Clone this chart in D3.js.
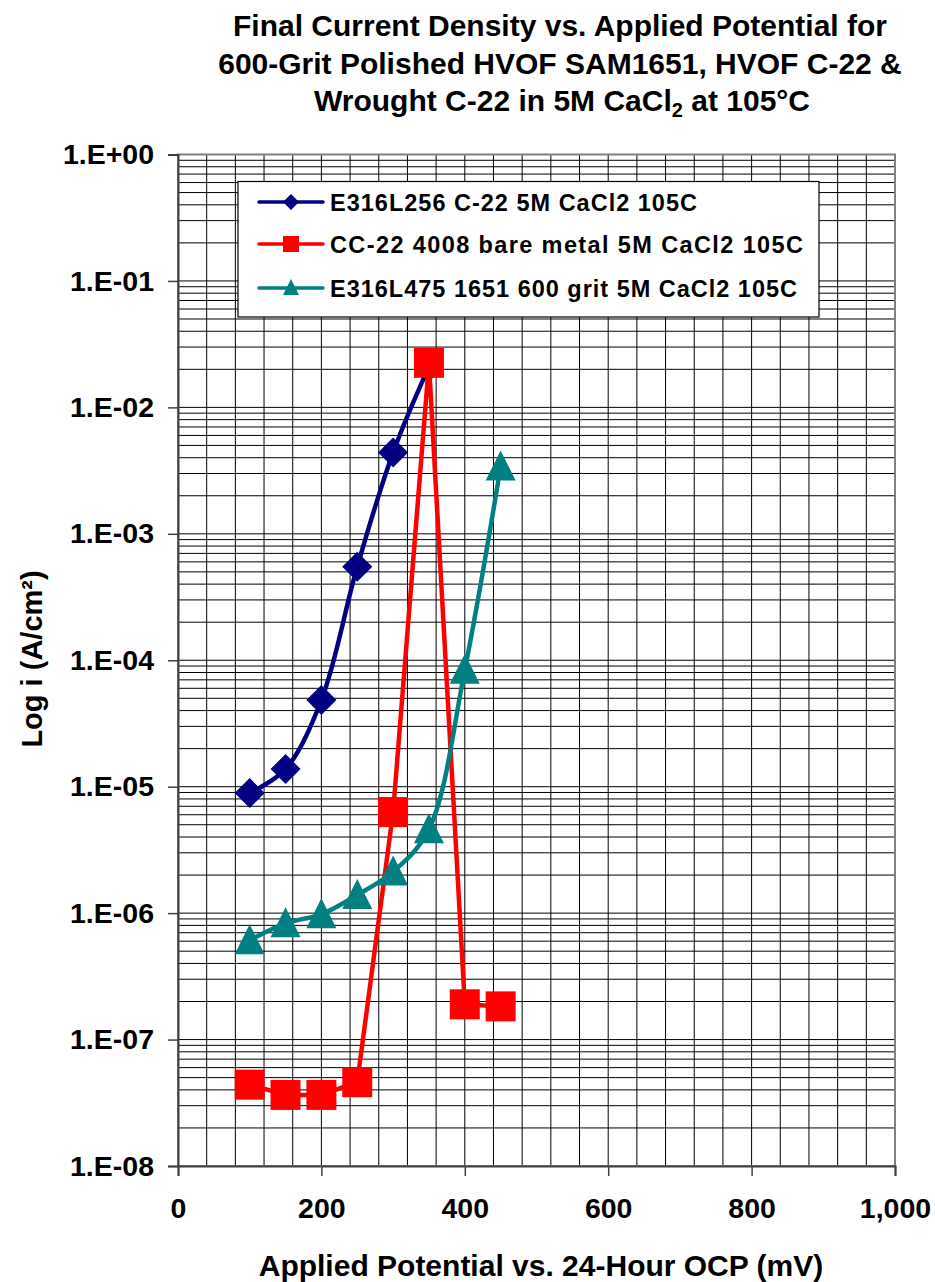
<!DOCTYPE html>
<html>
<head>
<meta charset="utf-8">
<script src="https://cdn.jsdelivr.net/npm/d3@7"></script>
<style>
  html, body { margin: 0; padding: 0; background: #fff; }
  svg { display: block; font-family: "Liberation Sans", Arial, sans-serif; font-weight: bold; }
</style>
</head>
<body>
<svg id="chart" width="935" height="1282"></svg>
<script>
// Applied potential (mV vs. 24-hour OCP) for each polarisation step
const potentials = [100, 150, 200, 250, 300, 350, 400, 450];

// Final current density (A/cm²) per series
const hvofC22 = [8.9e-6, 1.38e-5, 4.85e-5, 5.5e-4, 4.4e-3, 2.1e-2];
const wroughtC22 = [4.4e-8, 3.65e-8, 3.65e-8, 4.6e-8, 6.3e-6, 2.25e-2, 1.9e-7, 1.83e-7];
const sam1651 = [6.1e-7, 8.3e-7, 9.8e-7, 1.39e-6, 2.13e-6, 4.6e-6, 8.4e-5, 3.4e-3];

const seriesNames = [
  "E316L256 C-22 5M CaCl2 105C",
  "CC-22 4008 bare metal 5M CaCl2 105C",
  "E316L475 1651 600 grit 5M CaCl2 105C"
];

const xTicks = [0, 200, 400, 600, 800, 1000];
const yTicks = [1, 1e-1, 1e-2, 1e-3, 1e-4, 1e-5, 1e-6, 1e-7, 1e-8];
const yTickLabels = ["1.E+00", "1.E-01", "1.E-02", "1.E-03", "1.E-04", "1.E-05", "1.E-06", "1.E-07", "1.E-08"];

const titleLines = [
  "Final Current Density vs. Applied Potential for",
  "600-Grit Polished HVOF SAM1651, HVOF C-22 &"
];

const svg = d3.select("#chart");
const plot = { left: 178, right: 895, top: 154.5, bottom: 1166 };

const x = d3.scaleLinear().domain([0, 1000]).range([plot.left, plot.right]);
const y = d3.scaleLog().domain([1e-8, 1]).range([plot.bottom, plot.top]);

// ---- grid ----
const grid = svg.append("g");
const xGrid = d3.range(0, 1001, 40);
grid.selectAll("line.vx").data(xGrid).join("line")
  .attr("x1", d => x(d)).attr("x2", d => x(d))
  .attr("y1", plot.top).attr("y2", plot.bottom)
  .attr("stroke", "#000").attr("stroke-width", 1);

const yGrid = [];
for (let e = -8; e < 0; e++) for (let m = 1; m <= 9; m++) yGrid.push(m * Math.pow(10, e));
grid.selectAll("line.hy").data(yGrid).join("line")
  .attr("x1", plot.left).attr("x2", plot.right)
  .attr("y1", d => y(d)).attr("y2", d => y(d))
  .attr("stroke", "#000").attr("stroke-width", 1);

// plot frame
svg.append("rect")
  .attr("x", plot.left).attr("y", plot.top)
  .attr("width", plot.right - plot.left).attr("height", plot.bottom - plot.top)
  .attr("fill", "none").attr("stroke", "#808080").attr("stroke-width", 2);

// ---- axes ----
const yAxis = d3.axisLeft(y).tickValues(yTicks)
  .tickFormat((d, i) => yTickLabels[i]).tickSize(10).tickPadding(14);
const gy = svg.append("g").attr("transform", `translate(${plot.left},0)`).call(yAxis);
gy.select(".domain").attr("stroke", "#404040").attr("stroke-width", 2);
gy.selectAll(".tick line").attr("stroke", "#404040").attr("stroke-width", 1.5);
gy.selectAll(".tick text").attr("font-size", 28.5).attr("font-weight", "bold")
  .attr("fill", "#000").attr("font-family", "Liberation Sans, Arial, sans-serif");

const xAxis = d3.axisBottom(x).tickValues(xTicks).tickFormat(d3.format(",")).tickSize(10).tickPadding(22);
const gx = svg.append("g").attr("transform", `translate(0,${plot.bottom})`).call(xAxis);
gx.select(".domain").attr("stroke", "#404040").attr("stroke-width", 2);
gx.selectAll(".tick line").attr("stroke", "#404040").attr("stroke-width", 1.5);
gx.selectAll(".tick text").attr("font-size", 28.5).attr("font-weight", "bold")
  .attr("fill", "#000").attr("font-family", "Liberation Sans, Arial, sans-serif");

// ---- titles ----
const title = svg.append("text").attr("text-anchor", "middle").attr("font-size", 30);
titleLines.forEach((t, i) => {
  title.append("tspan").attr("x", 560).attr("y", 36 + i * 37.5).text(t);
});
const t3 = svg.append("text").attr("text-anchor", "middle").attr("font-size", 30)
  .attr("x", 562).attr("y", 111);
t3.append("tspan").text("Wrought C-22 in 5M CaCl");
t3.append("tspan").attr("font-size", 20).attr("dy", 6).text("2");
t3.append("tspan").attr("dy", -6).text(" at 105°C");

svg.append("text").attr("text-anchor", "middle").attr("font-size", 30)
  .attr("x", 541).attr("y", 1276)
  .text("Applied Potential vs. 24-Hour OCP (mV)");

svg.append("text").attr("text-anchor", "middle").attr("font-size", 29)
  .attr("transform", "translate(42,659) rotate(-90)")
  .text("Log i (A/cm²)");

// ---- series ----
const series = [
  { name: seriesNames[0], xs: potentials.slice(0, hvofC22.length), ys: hvofC22,
    color: "#000080", marker: "diamond", curve: d3.curveCatmullRom.alpha(0.5), legendWidth: 367 },
  { name: seriesNames[1], xs: potentials, ys: wroughtC22,
    color: "#ff0000", marker: "square", curve: d3.curveLinear, legendWidth: 473 },
  { name: seriesNames[2], xs: potentials, ys: sam1651,
    color: "#008080", marker: "triangle", curve: d3.curveCatmullRom.alpha(0.5), legendWidth: 467 }
];

function markerPath(type, s) {
  // s = nominal marker extent in px
  const h = s / 2;
  if (type === "diamond") return `M0,${-h}L${h},0L0,${h}L${-h},0Z`;
  if (type === "square") return `M${-h},${-h}H${h}V${h}H${-h}Z`;
  return `M0,${-h}L${h},${h}L${-h},${h}Z`;
}

series.forEach(s => {
  const pts = s.xs.map((v, i) => [x(v), y(s.ys[i])]);
  svg.append("path")
    .attr("d", d3.line().curve(s.curve)(pts))
    .attr("fill", "none").attr("stroke", s.color).attr("stroke-width", 4.5)
    .attr("stroke-linejoin", "round");
  svg.append("g").selectAll("path").data(pts).join("path")
    .attr("transform", d => `translate(${d[0]},${d[1] + (s.marker === "triangle" ? -1 : 0)})`)
    .attr("d", markerPath(s.marker, 30))
    .attr("fill", s.color);
});

// ---- legend ----
const lg = svg.append("g");
lg.append("rect").attr("x", 238).attr("y", 181.5).attr("width", 581).attr("height", 135.5)
  .attr("fill", "#fff").attr("stroke", "#000").attr("stroke-width", 1.2);
const rowY = [202, 244, 288];
series.forEach((s, i) => {
  const g = lg.append("g").attr("transform", `translate(0,${rowY[i]})`);
  g.append("line").attr("x1", 259).attr("x2", 323).attr("y1", 0).attr("y2", 0)
    .attr("stroke", s.color).attr("stroke-width", 3.5).attr("stroke-linecap", "round");
  g.append("path").attr("transform", `translate(291,${s.marker === "triangle" ? -1 : 0})`)
    .attr("d", markerPath(s.marker, 16)).attr("fill", s.color);
  g.append("text").attr("x", 330).attr("y", 8.5).attr("font-size", 23.5)
    .attr("textLength", s.legendWidth).attr("lengthAdjust", "spacing").text(s.name);
});
</script>
</body>
</html>
